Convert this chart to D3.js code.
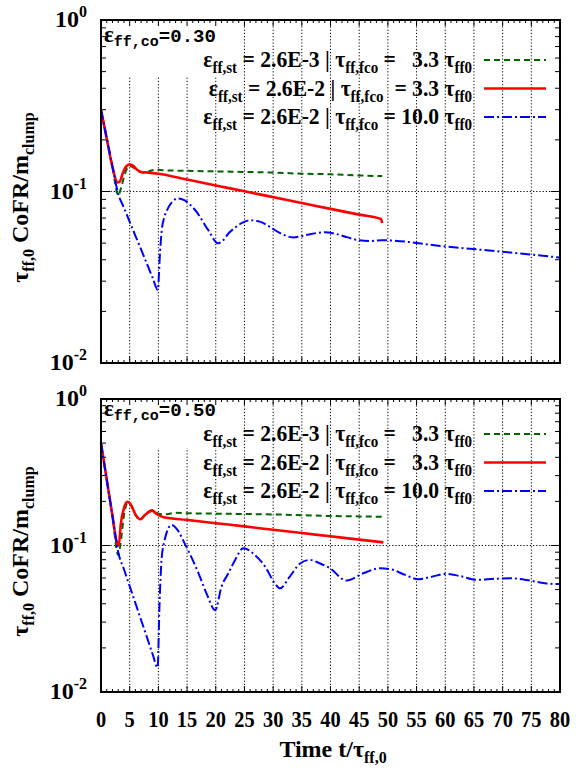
<!DOCTYPE html>
<html>
<head>
<meta charset="utf-8">
<script src="https://cdn.jsdelivr.net/npm/d3@7"></script>
<style>
  body { margin: 0; background: #fff; }
  svg text { font-family: "Liberation Serif", "Times New Roman", serif; font-weight: 700; white-space: pre; fill: #000; }
  svg text tspan.mono { font-family: "Liberation Mono", "DejaVu Sans Mono", monospace; }
</style>
</head>
<body>
<svg id="chart" width="576" height="768"></svg>
<script>
// ---- axis ticks ----
const xTicks = [0, 5, 10, 15, 20, 25, 30, 35, 40, 45, 50, 55, 60, 65, 70, 75, 80];
const yMajor = [0.01, 0.1, 1];
const yExponents = ["-2", "-1", "0"];

// ---- panel A: eps_ff,co = 0.30 ----
const tGreenA = [0, 1, 2, 3, 3.5, 4.2, 5, 5.8, 6.8, 7.6, 8.6, 9.6, 11, 15, 20, 25, 30, 35, 40, 45, 49];
const vGreenA = [0.30, 0.204, 0.139, 0.095, 0.105, 0.128, 0.141, 0.137, 0.130, 0.128, 0.132, 0.134, 0.133, 0.132, 0.131, 0.130, 0.129, 0.127, 0.126, 0.124, 0.123];

const tRedA = [0, 1, 2, 2.9, 3.25, 3.8, 4.4, 5.0, 5.6, 6.3, 7.0, 8.0, 10, 15, 20, 25, 30, 35, 40, 45, 48.8, 49.0];
const vRedA = [0.30, 0.204, 0.139, 0.113, 0.114, 0.128, 0.140, 0.144, 0.141, 0.134, 0.130, 0.129, 0.127, 0.1174, 0.1085, 0.1003, 0.0927, 0.0857, 0.0792, 0.0733, 0.0691, 0.0655];

const tBlueA = [0, 1, 2, 3, 4, 5, 6, 7, 8, 9, 9.9, 10.3, 10.6, 11.0, 11.6, 12.4, 13.4, 14.5, 16.4, 18.7, 20.4, 21.3, 22.2, 23.5, 24.5, 26, 27.7, 29.5, 31.5, 33.5, 35.5, 37.5, 39, 41, 43, 45, 47, 49, 60, 70, 80];
const vBlueA = [0.30, 0.204, 0.139, 0.097, 0.0804, 0.0666, 0.0552, 0.0458, 0.0379, 0.0314, 0.0267, 0.045, 0.060, 0.070, 0.079, 0.087, 0.0912, 0.089, 0.078, 0.0595, 0.0499, 0.052, 0.0569, 0.062, 0.0654, 0.068, 0.0667, 0.062, 0.0565, 0.054, 0.0555, 0.0572, 0.0578, 0.0565, 0.054, 0.052, 0.0515, 0.052, 0.0478, 0.0445, 0.0412];

// ---- panel B: eps_ff,co = 0.50 ----
const tGreenB = [0, 1, 2, 3, 3.5, 4.0, 4.6, 5.2, 6.0, 6.8, 7.7, 8.9, 9.8, 10.9, 13, 15, 20, 25, 30, 35, 40, 45, 49];
const vGreenB = [0.50, 0.282, 0.159, 0.086, 0.11, 0.16, 0.195, 0.19, 0.162, 0.149, 0.162, 0.175, 0.166, 0.163, 0.167, 0.166, 0.165, 0.164, 0.163, 0.161, 0.159, 0.158, 0.157];

const tRedB = [0, 1, 2, 2.7, 3.1, 3.45, 4.0, 4.6, 5.2, 6.0, 6.8, 7.7, 8.9, 9.8, 10.9, 15, 20, 25, 30, 35, 40, 45, 49.2];
const vRedB = [0.50, 0.282, 0.159, 0.107, 0.100, 0.14, 0.18, 0.199, 0.19, 0.163, 0.151, 0.162, 0.173, 0.163, 0.156, 0.1495, 0.142, 0.135, 0.128, 0.1216, 0.1155, 0.1097, 0.105];

const tBlueB = [0, 1, 2, 3, 4, 5, 6, 7, 8, 9, 9.87, 10.2, 10.55, 11.0, 11.4, 12.3, 13.2, 14.6, 17, 18.4, 19.9, 21.0, 22.2, 23.4, 24.8, 26.8, 28.6, 30.3, 31.2, 32.9, 34.7, 36.4, 38, 39.9, 42.8, 45.7, 48.6, 50.4, 53, 55.3, 57.5, 60, 62.5, 65.5, 68.5, 71.3, 74.8, 77.7, 80];
const vBlueB = [0.50, 0.282, 0.159, 0.090, 0.0689, 0.0527, 0.0404, 0.0309, 0.0237, 0.0181, 0.0147, 0.04, 0.08, 0.105, 0.121, 0.138, 0.130, 0.103, 0.0646, 0.047, 0.0362, 0.0524, 0.0646, 0.080, 0.0959, 0.0863, 0.0718, 0.0551, 0.051, 0.0612, 0.0754, 0.0797, 0.076, 0.0699, 0.0576, 0.0646, 0.0699, 0.069, 0.063, 0.0589, 0.061, 0.064, 0.062, 0.0583, 0.0592, 0.0598, 0.0576, 0.055, 0.0545];

// ---- legend labels (parts: [text, kind]; kind s = subscript) ----
const legendA = [
  [["ε", "n"], ["ff,st", "s"], [" = 2.6E-3 | τ", "n"], ["ff,fco", "s"], [" =   3.3 τ", "n"], ["ff0", "s"]],
  [["ε", "n"], ["ff,st", "s"], [" = 2.6E-2 | τ", "n"], ["ff,fco", "s"], ["  = 3.3 τ", "n"], ["ff0", "s"]],
  [["ε", "n"], ["ff,st", "s"], [" = 2.6E-2 | τ", "n"], ["ff,fco", "s"], [" = 10.0 τ", "n"], ["ff0", "s"]]
];
const legendB = [
  [["ε", "n"], ["ff,st", "s"], [" = 2.6E-3 | τ", "n"], ["ff,fco", "s"], [" =   3.3 τ", "n"], ["ff0", "s"]],
  [["ε", "n"], ["ff,st", "s"], [" = 2.6E-2 | τ", "n"], ["ff,fco", "s"], [" =   3.3 τ", "n"], ["ff0", "s"]],
  [["ε", "n"], ["ff,st", "s"], [" = 2.6E-2 | τ", "n"], ["ff,fco", "s"], [" = 10.0 τ", "n"], ["ff0", "s"]]
];
const coLabels = ["0.30", "0.50"];

const colors = { green: "#006400", red: "#ff0000", blue: "#0000ff" };
const styles = [
  { color: colors.green, width: 2, dash: "6,4" },
  { color: colors.red, width: 2.6, dash: null },
  { color: colors.blue, width: 2, dash: "10,3,2,3" }
];

const svg = d3.select("#chart");
const x = d3.scaleLinear().domain([0, 80]).range([101, 560]);

const panels = [
  { top: 20, bottom: 363, series: [[tGreenA, vGreenA], [tRedA, vRedA], [tBlueA, vBlueA]], legend: legendA, legendY: 60, co: coLabels[0], coY: 42, maskBottom: 76 },
  { top: 399, bottom: 692, series: [[tGreenB, vGreenB], [tRedB, vRedB], [tBlueB, vBlueB]], legend: legendB, legendY: 434, co: coLabels[1], coY: 416, maskBottom: 448 }
];

// rich text with sub/superscripts
function richText(g, parts, size, subSize, anchor, subShift) {
  const t = g.append("text").attr("text-anchor", anchor || "start").style("font-size", size + "px");
  const down = subShift || 6;
  let shift = 0;
  parts.forEach(([str, kind, cls, fs]) => {
    const target = kind === "s" ? down : kind === "p" ? -10 : 0;
    const ts = t.append("tspan").text(str).attr("dy", target - shift);
    if (kind !== "n") ts.style("font-size", subSize + "px");
    if (fs) ts.style("font-size", fs + "px");
    if (cls) ts.attr("class", cls);
    shift = target;
  });
  return t;
}

const [x0, x1] = x.range();

panels.forEach((p) => {
  const y = d3.scaleLog().domain([0.01, 1]).range([p.bottom, p.top]);
  const g = svg.append("g");

  // grid
  const grid = g.append("g").attr("stroke", "#000").attr("stroke-width", 1).attr("stroke-dasharray", "1.2,2");
  xTicks.slice(1, -1).forEach(t => {
    grid.append("line").attr("x1", x(t)).attr("x2", x(t)).attr("y1", p.top).attr("y2", p.bottom);
  });
  grid.append("line").attr("x1", x0).attr("x2", x1).attr("y1", y(0.1)).attr("y2", y(0.1));

  // opaque box behind the panel label
  g.append("rect").attr("x", x0).attr("y", p.top).attr("width", 135).attr("height", p.maskBottom - p.top).attr("fill", "#fff");

  // ticks
  const ticks = g.append("g").attr("stroke", "#000").attr("stroke-width", 1);
  d3.range(0, 81).forEach(t => {
    const len = t % 5 === 0 ? 6 : 3;
    ticks.append("line").attr("x1", x(t)).attr("x2", x(t)).attr("y1", p.bottom).attr("y2", p.bottom - len);
    ticks.append("line").attr("x1", x(t)).attr("x2", x(t)).attr("y1", p.top).attr("y2", p.top + len);
  });
  [-2, -1].forEach(k => {
    d3.range(1, 10).forEach(m => {
      const v = m * Math.pow(10, k);
      const len = m === 1 ? 9 : 5;
      ticks.append("line").attr("x1", x0).attr("x2", x0 + len).attr("y1", y(v)).attr("y2", y(v));
      ticks.append("line").attr("x1", x1).attr("x2", x1 - len).attr("y1", y(v)).attr("y2", y(v));
    });
  });

  // y tick labels
  yMajor.forEach((v, i) => {
    const tg = g.append("g").attr("transform", `translate(87,${y(v) + 7})`);
    richText(tg, [["10", "n"], [yExponents[i], "p"]], 24, 16, "end");
  });

  // curves
  const line = d3.line().x(d => x(d[0])).y(d => y(d[1])).curve(d3.curveMonotoneX);
  p.series.forEach(([ts, vs], si) => {
    const st = styles[si];
    g.append("path")
      .attr("d", line(d3.zip(ts, vs)))
      .attr("fill", "none")
      .attr("stroke", st.color)
      .attr("stroke-width", st.width)
      .attr("stroke-dasharray", st.dash)
      .attr("stroke-linejoin", "round");
  });

  // legend
  p.legend.forEach((parts, i) => {
    const ly = p.legendY + i * 28.5;
    const st = styles[i];
    const lg = g.append("g").attr("transform", `translate(472,${ly + 7}) scale(0.94,1)`);
    richText(lg, parts, 23, 16, "end");
    g.append("line").attr("x1", 484).attr("x2", 546).attr("y1", ly).attr("y2", ly)
      .attr("stroke", st.color).attr("stroke-width", st.width).attr("stroke-dasharray", st.dash);
  });

  // panel label
  const cg = g.append("g").attr("transform", `translate(104,${p.coY})`);
  richText(cg, [["ε", "n"], ["ff,co", "s", "mono", 15], ["=" + p.co, "n", "mono", 19]], 23, 15, "start", 4);

  // frame
  g.append("rect").attr("x", x0).attr("y", p.top).attr("width", x1 - x0).attr("height", p.bottom - p.top)
    .attr("fill", "none").attr("stroke", "#000").attr("stroke-width", 2);

  // y axis title
  const yg = g.append("g").attr("transform", `translate(28,${(p.top + p.bottom) / 2 + 6}) rotate(-90)`);
  richText(yg, [["τ", "n"], ["ff,0", "s"], [" CoFR/m", "n"], ["clump", "s"]], 24, 16, "middle");
});

// x tick labels (bottom panel only)
xTicks.forEach(t => {
  const tg = svg.append("g").attr("transform", `translate(${x(t)},727) scale(0.85,1)`);
  tg.append("text").attr("text-anchor", "middle").style("font-size", "24px").text(t);
});

// x axis title
const xg = svg.append("g").attr("transform", `translate(333,757)`);
richText(xg, [["Time t/τ", "n"], ["ff,0", "s"]], 24, 16, "middle");
</script>
</body>
</html>
